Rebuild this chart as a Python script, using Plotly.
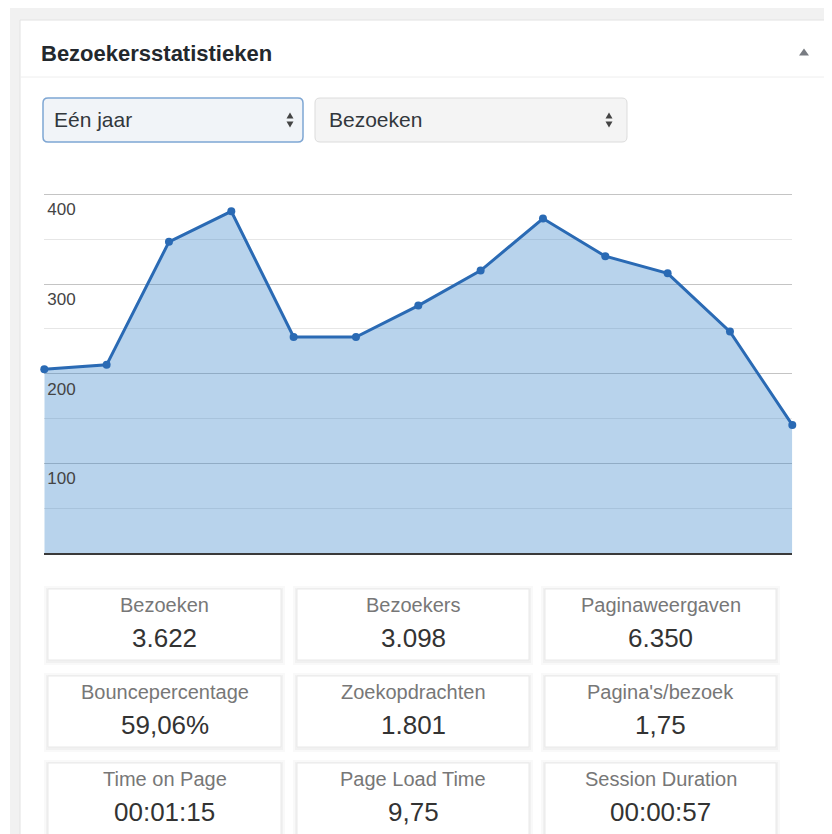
import plotly.graph_objects as go

# ---------------- data ----------------
periods = list(range(13))  # one point per month over "Eén jaar"
visits = [205, 210, 347, 381, 241, 241, 276, 315, 373, 331, 312, 247, 143]
y_tick_vals = [100, 200, 300, 400]
y_tick_text = ["100", "200", "300", "400"]
y_minor_vals = [50, 150, 250, 350]

panel_title = "Bezoekersstatistieken"
period_choice = "Eén jaar"
metric_choice = "Bezoeken"

stat_labels = ["Bezoeken", "Bezoekers", "Paginaweergaven",
               "Bouncepercentage", "Zoekopdrachten", "Pagina's/bezoek",
               "Time on Page", "Page Load Time", "Session Duration"]
stat_values = ["3.622", "3.098", "6.350",
               "59,06%", "1.801", "1,75",
               "00:01:15", "9,75", "00:00:57"]

# page body has an 8px margin: figure fills the rest of the 832x834 window
OFF = 8
W, H = 832 - OFF, 834 - OFF
FONT = "Liberation Sans, Arial, sans-serif"


def X(px):
    return (px - OFF) / W


def Y(py):
    return 1 - (py - OFF) / H


def rect(x0, y0, x1, y1, fill, line=None, lw=1):
    return dict(type="rect", xref="paper", yref="paper", layer="below",
                x0=X(x0), x1=X(x1), y0=Y(y1), y1=Y(y0),
                fillcolor=fill, line=dict(color=line or fill, width=lw if line else 0))


def rrect(x0, y0, x1, y1, r, fill, line, lw=1):
    def P(a, b):
        return f"{X(a):.5f},{Y(b):.5f}"
    d = (f"M {P(x0 + r, y0)} L {P(x1 - r, y0)} Q {P(x1, y0)} {P(x1, y0 + r)} "
         f"L {P(x1, y1 - r)} Q {P(x1, y1)} {P(x1 - r, y1)} "
         f"L {P(x0 + r, y1)} Q {P(x0, y1)} {P(x0, y1 - r)} "
         f"L {P(x0, y0 + r)} Q {P(x0, y0)} {P(x0 + r, y0)} Z")
    return dict(type="path", xref="paper", yref="paper", layer="below", path=d,
                fillcolor=fill, line=dict(color=line, width=lw))


def tri(cx, cy, w, h, up, color):
    if up:
        d = f"M {X(cx - w/2)},{Y(cy + h/2)} L {X(cx + w/2)},{Y(cy + h/2)} L {X(cx)},{Y(cy - h/2)} Z"
    else:
        d = f"M {X(cx - w/2)},{Y(cy - h/2)} L {X(cx + w/2)},{Y(cy - h/2)} L {X(cx)},{Y(cy + h/2)} Z"
    return dict(type="path", xref="paper", yref="paper", layer="above", path=d,
                fillcolor=color, line=dict(color=color, width=0))


shapes = []
annotations = []

# page + panel
shapes.append(rect(10, 8, 840, 840, "#f1f1f1"))
shapes.append(rect(20, 20, 831, 845, "#ffffff", "#e2e2e2", 1))
shapes.append(dict(type="line", xref="paper", yref="paper", layer="below",
                   x0=X(20), x1=X(831), y0=Y(77), y1=Y(77),
                   line=dict(color="#eeeeee", width=1)))

annotations.append(dict(xref="paper", yref="paper", x=X(39), y=Y(53),
                        xanchor="left", yanchor="middle", showarrow=False,
                        text=f"<b>{panel_title}</b>",
                        font=dict(family=FONT, size=22, color="#23282d")))
shapes.append(tri(804, 52, 10, 7, True, "#787c82"))

# dropdowns
shapes.append(rrect(43, 98, 303, 142, 5, "#f1f4f8", "#7ea6d3", 1.5))
shapes.append(rrect(315, 98, 627, 142, 5, "#f4f4f4", "#dcdcdc", 1))
annotations.append(dict(xref="paper", yref="paper", x=X(52), y=Y(120),
                        xanchor="left", yanchor="middle", showarrow=False,
                        text=period_choice,
                        font=dict(family=FONT, size=21, color="#32373c")))
annotations.append(dict(xref="paper", yref="paper", x=X(327), y=Y(120),
                        xanchor="left", yanchor="middle", showarrow=False,
                        text=metric_choice,
                        font=dict(family=FONT, size=21, color="#32373c")))
for ax_ in (290, 609):
    shapes.append(tri(ax_, 115.5, 7, 6, True, "#444"))
    shapes.append(tri(ax_, 124.5, 7, 6, False, "#444"))

# stat boxes
col_x = [(48, 281), (297, 529), (545, 776)]
row_y = [(589, 660), (676, 747), (763, 842)]
for i, (lab, val) in enumerate(zip(stat_labels, stat_values)):
    r, c = divmod(i, 3)
    x0, x1 = col_x[c]
    y0, y1 = row_y[r]
    shapes.append(rect(x0 - 4, y0 - 3, x1 + 4, y1 + 5, "#f9f9f9"))
    shapes.append(rect(x0 - 2, y0 - 1, x1 + 2, y1 + 3, "#f1f1f1"))
    shapes.append(rect(x0, y0, x1, y1, "#ffffff", "#e9e9e9", 1))
    cx = (x0 + x1) / 2
    annotations.append(dict(xref="paper", yref="paper", x=X(cx), y=Y(y0 + 16),
                            xanchor="center", yanchor="middle", showarrow=False,
                            text=lab, font=dict(family=FONT, size=20, color="#777777")))
    annotations.append(dict(xref="paper", yref="paper", x=X(cx), y=Y(y0 + 49),
                            xanchor="center", yanchor="middle", showarrow=False,
                            text=val, font=dict(family=FONT, size=26, color="#333333")))

# ---------------- chart ----------------
px_per_unit = (553.3 - 194.3) / 400.0
y_top_val = 404
y_top_px = 553.3 - y_top_val * px_per_unit

fig = go.Figure()
fig.add_trace(go.Scatter(
    x=periods, y=visits, mode="lines+markers",
    fill="tozeroy", fillcolor="rgba(52,129,201,0.35)",
    line=dict(color="#2a6ab4", width=3),
    marker=dict(color="#2a6ab4", size=8),
    cliponaxis=False, hoverinfo="x+y", showlegend=False,
))

fig.update_layout(
    width=W, height=H,
    margin=dict(l=0, r=0, t=0, b=0),
    paper_bgcolor="#ffffff",
    plot_bgcolor="rgba(0,0,0,0)",
    shapes=shapes,
    annotations=annotations,
    xaxis=dict(domain=[X(44.3), X(792.3)], range=[0, 12],
               showgrid=False, zeroline=False, showticklabels=False,
               ticks="", showline=True, linecolor="#3a3a3a", linewidth=2),
    yaxis=dict(domain=[Y(553.3), Y(y_top_px)], range=[0, y_top_val],
               tickmode="array", tickvals=y_tick_vals, ticktext=y_tick_text,
               ticklabelposition="inside bottom", ticklabelshift=3,
               tickfont=dict(family=FONT, size=17, color="#444444"),
               showgrid=True, gridcolor="#c4c4c4", gridwidth=1,
               zeroline=False, showline=False, ticks="",
               minor=dict(tickvals=y_minor_vals, showgrid=True,
                          gridcolor="#e6e6e6", gridwidth=1, ticks="")),
)

fig.write_html("out.html")
